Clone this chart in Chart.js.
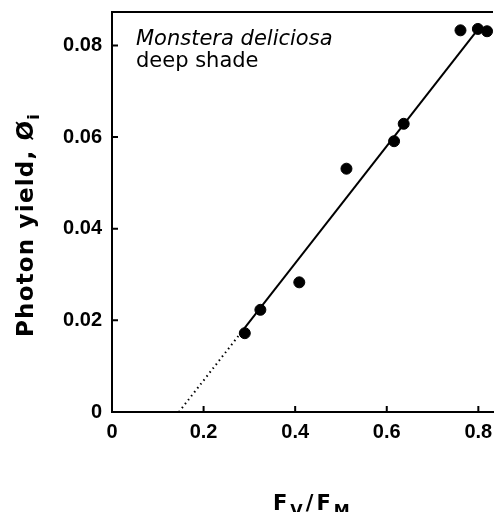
<!DOCTYPE html>
<html>
<head>
<meta charset="utf-8">
<script src="https://cdn.jsdelivr.net/npm/chart.js@4/dist/chart.umd.min.js"></script>
<style>
  body { margin: 0; background: #fff; }
  #wrap { width: 495px; height: 512px; }
</style>
</head>
<body>
<div id="wrap"><canvas id="myChart" width="495" height="512"></canvas></div>
<script>
// measured points (Fv/Fm, photon yield)
var fvfm = [0.290, 0.324, 0.409, 0.512, 0.616, 0.637, 0.761, 0.799, 0.819];
var yieldVals = [0.0172, 0.0223, 0.0283, 0.0531, 0.0591, 0.0629, 0.0833, 0.0836, 0.0831];

// regression line
var fitX = [0.280, 0.800];
var fitY = [0.0171, 0.0836];
var extX = [0.146, 0.280];
var extY = [0, 0.0171];

var xTicks = [0, 0.2, 0.4, 0.6, 0.8];
var yTicks = [0, 0.02, 0.04, 0.06, 0.08];
var xLabels = ['0', '0.2', '0.4', '0.6', '0.8'];
var yLabels = ['0', '0.02', '0.04', '0.06', '0.08'];

function pairs(xs, ys) {
  return xs.map(function (x, i) { return { x: x, y: ys[i] }; });
}

var tickFont = { family: 'Liberation Sans', size: 20, weight: 'bold' };

// frame, inward ticks and the texts with subscripts
var decor = {
  id: 'decor',
  afterDraw: function (chart) {
    var ctx = chart.ctx, a = chart.chartArea;
    var xs = chart.scales.x, ys = chart.scales.y;
    ctx.save();
    ctx.strokeStyle = '#000';
    ctx.lineWidth = 2;
    ctx.beginPath();
    ctx.moveTo(a.left - 1, a.top);
    ctx.lineTo(a.right, a.top);
    ctx.stroke();
    ctx.beginPath();
    xTicks.forEach(function (v) {
      if (v === 0) return;
      var px = xs.getPixelForValue(v);
      ctx.moveTo(px, a.bottom);
      ctx.lineTo(px, a.bottom - 6);
    });
    yTicks.forEach(function (v) {
      if (v === 0) return;
      var py = ys.getPixelForValue(v);
      ctx.moveTo(a.left, py);
      ctx.lineTo(a.left + 6, py);
    });
    ctx.stroke();

    ctx.fillStyle = '#000';
    ctx.textBaseline = 'alphabetic';
    ctx.textAlign = 'left';
    ctx.font = 'italic 21px "DejaVu Sans"';
    ctx.fillText('Monstera deliciosa', 136, 45);
    ctx.font = '21px "DejaVu Sans"';
    ctx.fillText('deep shade', 136, 67);

    // x title  Fv/Fm
    ctx.letterSpacing = '3px';
    var big = 'bold 21px "DejaVu Sans"', small = 'bold 16px "DejaVu Sans"';
    var x = 273, base = 510;
    ctx.font = big; ctx.fillText('F', x, base); x += ctx.measureText('F').width;
    ctx.font = small; ctx.fillText('V', x, base + 6); x += ctx.measureText('V').width;
    ctx.font = big; ctx.fillText('/', x, base); x += ctx.measureText('/').width;
    ctx.fillText('F', x, base); x += ctx.measureText('F').width;
    ctx.font = small; ctx.fillText('M', x, base + 6);

    // y title  Photon yield, Øi
    ctx.letterSpacing = '1.2px';
    ctx.translate(33, 337);
    ctx.rotate(-Math.PI / 2);
    ctx.font = 'bold 23px "DejaVu Sans"';
    var t = 'Photon yield, Ø';
    ctx.fillText(t, 0, 0);
    var w = ctx.measureText(t).width;
    ctx.font = 'bold 16px "DejaVu Sans"';
    ctx.fillText('i', w, 6);
    ctx.restore();
  }
};

var ctx = document.getElementById('myChart').getContext('2d');
var chart = new Chart(ctx, {
  type: 'scatter',
  data: {
    datasets: [{
      label: 'measured',
      data: pairs(fvfm, yieldVals),
      backgroundColor: '#000',
      borderColor: '#000',
      pointRadius: 5.5,
      pointHoverRadius: 5.5
    }, {
      label: 'fit',
      type: 'line',
      data: pairs(fitX, fitY),
      borderColor: '#000',
      borderWidth: 2,
      pointRadius: 0,
      fill: false
    }, {
      label: 'extrapolation',
      type: 'line',
      data: pairs(extX, extY),
      borderColor: '#000',
      borderWidth: 2,
      borderDash: [1.5, 3.5],
      pointRadius: 0,
      fill: false
    }]
  },
  options: {
    responsive: false,
    animation: false,
    clip: false,
    layout: { autoPadding: false, padding: { top: 12, right: 2, left: 0, bottom: 0 } },
    plugins: { legend: { display: false }, tooltip: { enabled: false } },
    scales: {
      x: {
        type: 'linear',
        min: 0,
        max: 0.832,
        grid: { display: false, drawTicks: false },
        border: { display: true, color: '#000', width: 2 },
        afterBuildTicks: function (s) { s.ticks = xTicks.map(function (v) { return { value: v }; }); },
        afterFit: function (s) {
          s.height = 100; s.paddingLeft = 0; s.paddingRight = 0;
          if (s._margins) { s._margins.left = 0; s._margins.right = 0; }
        },
        ticks: {
          color: '#000',
          font: tickFont,
          padding: 8,
          maxRotation: 0,
          callback: function (v) { return xLabels[xTicks.indexOf(v)]; }
        }
      },
      y: {
        type: 'linear',
        min: 0,
        max: 0.0873,
        grid: { display: false, drawTicks: false },
        border: { display: true, color: '#000', width: 2 },
        afterBuildTicks: function (s) { s.ticks = yTicks.map(function (v) { return { value: v }; }); },
        afterFit: function (s) {
          s.width = 112; s.paddingTop = 0; s.paddingBottom = 0;
          if (s._margins) { s._margins.top = 0; s._margins.bottom = 0; }
        },
        ticks: {
          color: '#000',
          font: tickFont,
          padding: 10,
          callback: function (v) { return yLabels[yTicks.indexOf(v)]; }
        }
      }
    }
  },
  plugins: [decor]
});
</script>
</body>
</html>
